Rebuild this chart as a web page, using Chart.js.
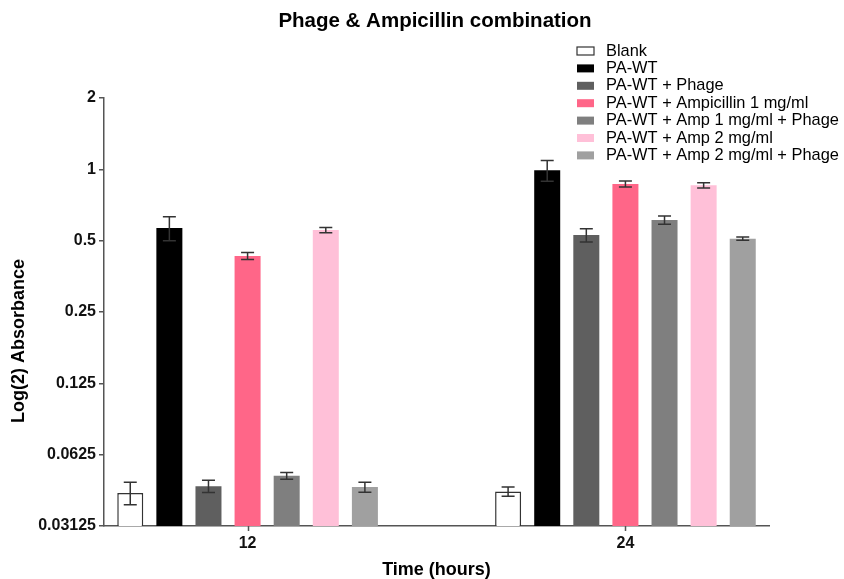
<!DOCTYPE html>
<html>
<head>
<meta charset="utf-8">
<script src="https://cdn.jsdelivr.net/npm/chart.js@4/dist/chart.umd.min.js"></script>
<style>
    body { margin: 0; background: #fff; }
    #wrap { width: 844px; height: 579px; position: relative; }
</style>
</head>
<body>
<div id="wrap"><canvas id="chartAbsorbance"></canvas></div>
<script>
const hours = [12, 24]
const yTicks = [0.03125, 0.0625, 0.125, 0.25, 0.5, 1, 2]
const yTickLabels = ['0.03125', '0.0625', '0.125', '0.25', '0.5', '1', '2']

const seriesNames = [
    'Blank',
    'PA-WT',
    'PA-WT + Phage',
    'PA-WT + Ampicillin 1 mg/ml',
    'PA-WT + Amp 1 mg/ml + Phage',
    'PA-WT + Amp 2 mg/ml',
    'PA-WT + Amp 2 mg/ml + Phage'
]

// mean absorbance per time point
const blank = [0.0431, 0.0437]
const paWt = [0.565, 0.99]
const paWtPhage = [0.046, 0.528]
const amp1 = [0.431, 0.867]
const amp1Phage = [0.0509, 0.611]
const amp2 = [0.554, 0.856]
const amp2Phage = [0.0456, 0.510]

// error (+/-) per time point
const blankErr = [0.0047, 0.002]
const paWtErr = [0.066, 0.10]
const paWtPhageErr = [0.0027, 0.034]
const amp1Err = [0.015, 0.025]
const amp1PhageErr = [0.0017, 0.024]
const amp2Err = [0.014, 0.022]
const amp2PhageErr = [0.0022, 0.008]

const seriesValues = [blank, paWt, paWtPhage, amp1, amp1Phage, amp2, amp2Phage]
const seriesErrors = [blankErr, paWtErr, paWtPhageErr, amp1Err, amp1PhageErr, amp2Err, amp2PhageErr]
const seriesColors = ['#ffffff', '#000000', '#5f5f5f', '#ff6688', '#7f7f7f', '#ffc0d8', '#a0a0a0']

const FONT = '"Liberation Sans", Arial, Helvetica, sans-serif';

const datasets = seriesNames.map((name, i) => ({
    label: name,
    data: seriesValues[i],
    errors: seriesErrors[i],
    backgroundColor: seriesColors[i],
    borderColor: i == 0 ? '#333333' : seriesColors[i],
    borderWidth: i == 0 ? 1.5 : 0,
    categoryPercentage: 0.7245,
    barPercentage: 0.665
}))

// whiskers with caps on every bar, plus the tick marks under the time axis
const errorBars = {
    id: 'errorBars',
    afterDatasetsDraw(chart) {
        const ctx = chart.ctx;
        const x = chart.scales.x;
        const y = chart.scales.y;
        ctx.save();
        ctx.strokeStyle = '#333333';
        ctx.lineWidth = 1.5;
        chart.data.datasets.forEach((ds, di) => {
            const meta = chart.getDatasetMeta(di);
            meta.data.forEach((bar, i) => {
                const v = ds.data[i];
                const e = ds.errors[i];
                const top = y.getPixelForValue(v + e);
                const bot = y.getPixelForValue(v - e);
                const cap = 6.5;
                ctx.beginPath();
                ctx.moveTo(bar.x, top);
                ctx.lineTo(bar.x, bot);
                ctx.moveTo(bar.x - cap, top);
                ctx.lineTo(bar.x + cap, top);
                ctx.moveTo(bar.x - cap, bot);
                ctx.lineTo(bar.x + cap, bot);
                ctx.stroke();
            })
        })

        ctx.strokeStyle = '#555';
        ctx.beginPath();
        hours.forEach(h => {
            const px = Math.round(x.getPixelForValue(h)) + 0.5;
            ctx.moveTo(px, x.top);
            ctx.lineTo(px, x.top + 5);
        })
        ctx.stroke();
        ctx.restore();
    }
}

// title, y axis title and the legend block
const decorations = {
    id: 'decorations',
    afterDraw(chart) {
        const ctx = chart.ctx;
        ctx.save();
        ctx.fillStyle = '#000';
        ctx.textAlign = 'center';
        ctx.textBaseline = 'middle';
        ctx.font = 'bold 20.5px ' + FONT;
        ctx.fillText('Phage & Ampicillin combination', 435, 21);

        ctx.save();
        ctx.translate(19, 341);
        ctx.rotate(-Math.PI / 2);
        ctx.font = 'bold 18px ' + FONT;
        ctx.fillText('Log(2) Absorbance', 0, 0);
        ctx.restore();

        ctx.textAlign = 'left';
        ctx.font = '16.4px ' + FONT;
        chart.data.datasets.forEach((ds, i) => {
            const cy = 51 + i * 17.4;
            ctx.fillStyle = ds.backgroundColor;
            ctx.fillRect(577, cy - 4, 17, 8);
            if (i == 0) {
                ctx.strokeStyle = '#333';
                ctx.lineWidth = 1.2;
                ctx.strokeRect(577, cy - 4, 17, 8);
            }
            ctx.fillStyle = '#000';
            ctx.fillText(ds.label, 606, cy);
        })
        ctx.restore();
    }
}

const config = {
    type: 'bar',
    data: {
        labels: hours,
        datasets: datasets
    },
    options: {
        responsive: true,
        maintainAspectRatio: false,
        animation: false,
        layout: {
            padding: { top: 98, right: 75, left: 0, bottom: 0 }
        },
        plugins: {
            legend: { display: false },
            title: { display: false },
            tooltip: { enabled: false }
        },
        scales: {
            x: {
                type: 'linear',
                min: 7.44,
                max: 28.56,
                offset: false,
                afterBuildTicks: scale => {
                    scale.ticks = hours.map(h => ({ value: h }));
                },
                afterFit: scale => {
                    scale.height = 53;
                },
                ticks: {
                    color: '#111',
                    padding: 0,
                    font: { family: FONT, size: 16, weight: 'bold' },
                    callback: (v, i) => String(hours[i])
                },
                grid: {
                    display: false
                },
                border: { display: true, color: '#555', width: 1.5 },
                title: {
                    display: true,
                    text: 'Time (hours)',
                    color: '#000',
                    padding: { top: 0, bottom: 0 },
                    font: { family: FONT, size: 18, weight: 'bold', lineHeight: 1 }
                }
            },
            y: {
                type: 'logarithmic',
                min: 0.03125,
                max: 2,
                afterBuildTicks: scale => {
                    scale.ticks = yTicks.map(v => ({ value: v }));
                },
                afterFit: scale => {
                    scale.width = 104;
                },
                ticks: {
                    color: '#111',
                    padding: 3,
                    font: { family: FONT, size: 16, weight: 'bold' },
                    callback: (v, i) => yTickLabels[i]
                },
                grid: {
                    display: true,
                    drawOnChartArea: false,
                    drawTicks: true,
                    tickLength: 5,
                    color: '#555',
                    lineWidth: 1.5
                },
                border: { display: true, color: '#555', width: 1.5 }
            }
        }
    },
    plugins: [errorBars, decorations]
};

var chart = new Chart(document.getElementById('chartAbsorbance'), config);
</script>
</body>
</html>
